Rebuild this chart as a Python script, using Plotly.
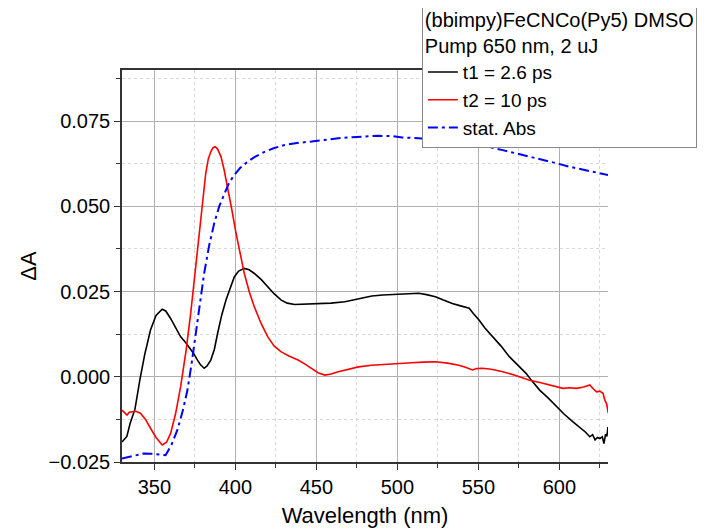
import plotly.graph_objects as go

# t1 = 2.6 ps transient spectrum
wl_t1 = [330, 333, 335, 338, 341, 344, 347.6, 351, 354.8, 357, 360, 363, 366.2, 369, 371.4, 374, 376.6, 378.5,
         380.7, 382.5, 384.8, 387, 389, 391.5, 394.2, 397, 399.3, 402, 405.5, 408.5, 411.7, 416, 420, 424,
         428.3, 432, 436.6, 442, 451.1, 459, 467.6, 476, 484.2, 491, 498.7, 505, 513.2, 518, 523.5, 528,
         533.9, 539, 544.3, 547, 550.5, 554, 558.8, 564, 569.1, 574, 579.4, 583, 587.8, 593, 598.1, 603,
         608.4, 613, 616, 618.8, 620.5, 622, 623.5, 625, 626.5, 627.5, 628.5, 629.3, 630]
t1 = [-0.0191, -0.0175, -0.0137, -0.0095, -0.0010, 0.0065, 0.0137, 0.0180, 0.0198, 0.0193, 0.0171, 0.0145,
      0.0117, 0.0102, 0.0088, 0.0070, 0.0049, 0.0035, 0.0025, 0.0032, 0.0049, 0.0080, 0.0127, 0.0180,
      0.0225, 0.0265, 0.0293, 0.0310, 0.0318, 0.0314, 0.0303, 0.0285, 0.0264, 0.0243, 0.0225, 0.0216,
      0.0212, 0.0213, 0.0215, 0.0216, 0.0220, 0.0228, 0.0237, 0.0240, 0.0242, 0.0243, 0.0245, 0.0241,
      0.0235, 0.0226, 0.0215, 0.0208, 0.0201, 0.0185, 0.0166, 0.0143, 0.0117, 0.0090, 0.0059, 0.0035,
      0.0010, -0.0012, -0.0039, -0.0062, -0.0088, -0.0110, -0.0132, -0.0150, -0.0162, -0.0176, -0.0170,
      -0.0185, -0.0178, -0.0181, -0.0176, -0.0196, -0.0168, -0.0175, -0.0147]

# t2 = 10 ps transient spectrum
wl_t2 = [330, 331.5, 333.1, 334.5, 336.2, 338.5, 341.4, 344.5, 347.6, 351, 354.8, 357.5, 360, 363, 366.2,
         369.5, 372.4, 375, 377.6, 379.8, 381.7, 383.3, 384.8, 386.2, 387.5, 389, 391.1, 393, 395.2, 397.8,
         400.4, 403, 405.5, 408.5, 411.7, 416, 420, 424, 428.3, 433, 438.7, 443, 447, 451, 455.2, 459,
         463.5, 470, 476, 484, 492.5, 502.9, 509, 516, 523.5, 531, 538, 542, 546.3, 549, 552.5, 558, 565,
         573, 581.6, 588, 594, 598, 602.2, 606, 610.5, 615, 618.8, 621, 622.9, 625, 627, 628, 629.2, 630.2]
t2 = [-0.0098, -0.0106, -0.0112, -0.0104, -0.0103, -0.0101, -0.0107, -0.0125, -0.0151, -0.0178, -0.0200,
      -0.0192, -0.0166, -0.0110, -0.0029, 0.0075, 0.0186, 0.0300, 0.0421, 0.0520, 0.0597, 0.0640, 0.0660,
      0.0672, 0.0675, 0.0668, 0.0646, 0.0608, 0.0558, 0.0490, 0.0421, 0.0358, 0.0303, 0.0250, 0.0205,
      0.0155, 0.0117, 0.0090, 0.0073, 0.0061, 0.0049, 0.0037, 0.0025, 0.0012, 0.0005, 0.0008, 0.0015,
      0.0023, 0.0029, 0.0034, 0.0037, 0.0040, 0.0041, 0.0043, 0.0044, 0.0040, 0.0034, 0.0028, 0.0020,
      0.0024, 0.0025, 0.0022, 0.0015, 0.0004, -0.0010, -0.0017, -0.0024, -0.0030, -0.0034, -0.0032,
      -0.0034, -0.0030, -0.0024, -0.0036, -0.0044, -0.0042, -0.0049, -0.0068, -0.0080, -0.0107]

# static absorption
wl_abs = [330, 333.5, 337.2, 340, 343.4, 348, 352, 356.9, 360.5, 364.2, 367.5, 370.4, 373, 375.5, 378,
          380.7, 383.8, 386.9, 390, 393.1, 396, 399.3, 403, 407.6, 412, 418, 424, 430.4, 438, 447, 455,
          463.5, 472, 480, 488, 496.6, 502.9, 513, 523.5, 534, 544.3, 555, 565, 575, 585.6, 596, 606.4,
          618, 630]
stat_abs = [-0.0240, -0.0236, -0.0230, -0.0227, -0.0225, -0.0226, -0.0228, -0.0230, -0.0200, -0.0156,
            -0.0100, -0.0039, 0.0040, 0.0127, 0.0215, 0.0303, 0.0385, 0.0450, 0.0500, 0.0538, 0.0568,
            0.0592, 0.0613, 0.0631, 0.0645, 0.0660, 0.0671, 0.0680, 0.0686, 0.0690, 0.0695, 0.0700,
            0.0703, 0.0706, 0.0707, 0.0706, 0.0702, 0.0700, 0.0697, 0.0692, 0.0685, 0.0676, 0.0665,
            0.0654, 0.0641, 0.0629, 0.0616, 0.0604, 0.0592]

font_name = "Arial, Liberation Sans, sans-serif"

fig = go.Figure()

fig.add_trace(go.Scatter(
    x=wl_t1, y=t1, mode='lines', name='t1 = 2.6 ps',
    line=dict(color='black', width=1.6)
))
fig.add_trace(go.Scatter(
    x=wl_t2, y=t2, mode='lines', name='t2 = 10 ps',
    line=dict(color='red', width=1.6)
))
fig.add_trace(go.Scatter(
    x=wl_abs, y=stat_abs, mode='lines', name='stat. Abs',
    line=dict(color='blue', width=2, dash='10px,4px,3px,4px')
))

# page body adds an 8px offset, so margins are shifted accordingly
fig.update_layout(
    width=706, height=531,
    margin=dict(l=114, r=106, t=62, b=77, autoexpand=False),
    paper_bgcolor='white', plot_bgcolor='white',
    font=dict(family=font_name, size=20, color='black'),
    showlegend=True,
    legend=dict(
        x=0.617, y=1.178, xanchor='left', yanchor='top',
        bgcolor='white', bordercolor='#888888', borderwidth=1,
        font=dict(size=19), tracegroupgap=0, itemwidth=30,
        title=dict(text='(bbimpy)FeCNCo(Py5) DMSO<br>Pump 650 nm, 2 uJ', font=dict(size=20), side='top'),
    ),
)

fig.update_xaxes(
    range=[330, 630], tick0=350, dtick=50,
    showline=True, linecolor='#333333', linewidth=1.5, mirror=True,
    ticks='outside', ticklen=6, tickcolor='#333333',
    showgrid=True, gridcolor='#b0b0b0', gridwidth=1,
    zeroline=False,
    minor=dict(dtick=25, tick0=325, ticks='outside', ticklen=4, tickcolor='#333333',
               showgrid=True, gridcolor='#d8d8d8', griddash='dot'),
    title=dict(text='Wavelength (nm)', font=dict(size=22), standoff=11),
)
fig.update_yaxes(
    range=[-0.025, 0.090], tick0=0, dtick=0.025, tickformat='.3f',
    showline=True, linecolor='#333333', linewidth=1.5,
    ticks='outside', ticklen=6, tickcolor='#333333',
    showgrid=True, gridcolor='#b0b0b0', gridwidth=1,
    zeroline=False,
    minor=dict(dtick=0.0125, tick0=0, ticks='outside', ticklen=4, tickcolor='#333333',
               showgrid=True, gridcolor='#d8d8d8', griddash='dot'),
    title=dict(text='ΔA', font=dict(size=22), standoff=6),
)

fig.write_html("out.html")
